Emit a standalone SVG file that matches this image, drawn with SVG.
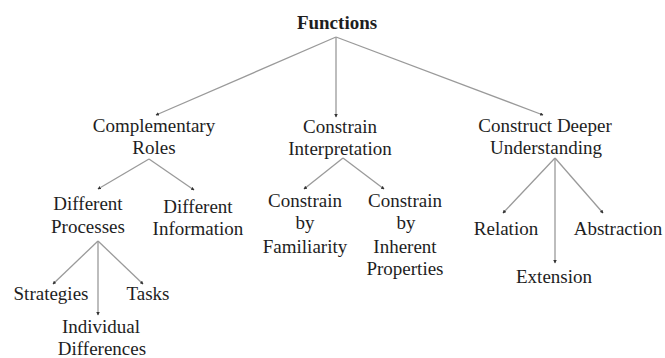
<svg xmlns="http://www.w3.org/2000/svg" width="665" height="358" viewBox="0 0 665 358">
<defs>
<style>
text{font-family:"Liberation Serif","Times New Roman",serif;font-size:19px;fill:#1e1e1e;text-anchor:middle}
.b{font-weight:bold}
.c line{stroke:#9a9a9a;stroke-width:1.3;marker-end:url(#ah)}
</style>
<marker id="ah" viewBox="0 0 6 6" refX="5" refY="3" markerWidth="3.5" markerHeight="3.5" orient="auto" markerUnits="userSpaceOnUse">
<path d="M0,0L6,3L0,6z" fill="#333"/>
</marker>
</defs>
<rect width="665" height="358" fill="#fff"/>
<g class="c" id="connectors">
<line x1="336" y1="37" x2="156" y2="115"/>
<line x1="336" y1="37" x2="336" y2="117"/>
<line x1="336" y1="37" x2="543" y2="115"/>
<line x1="149" y1="159" x2="98" y2="189"/>
<line x1="149" y1="159" x2="194" y2="190"/>
<line x1="343" y1="158" x2="304" y2="189"/>
<line x1="343" y1="158" x2="384" y2="189"/>
<line x1="555" y1="158" x2="503" y2="213"/>
<line x1="555" y1="158" x2="555" y2="263"/>
<line x1="555" y1="158" x2="603" y2="213"/>
<line x1="98" y1="241" x2="53" y2="284"/>
<line x1="98" y1="241" x2="98" y2="315"/>
<line x1="98" y1="241" x2="143" y2="284"/>
</g>
<g id="functions"><text class="b" x="337" y="29">Functions</text></g>
<g id="complementary-roles"><text x="154" y="132">Complementary</text><text x="154" y="154">Roles</text></g>
<g id="constrain-interpretation"><text x="340" y="133">Constrain</text><text x="340" y="155">Interpretation</text></g>
<g id="construct-deeper"><text x="545" y="132">Construct Deeper</text><text x="546" y="154">Understanding</text></g>
<g id="different-processes"><text x="88" y="210">Different</text><text x="88" y="233">Processes</text></g>
<g id="different-information"><text x="198" y="213">Different</text><text x="198" y="235">Information</text></g>
<g id="constrain-familiarity"><text x="305" y="207">Constrain</text><text x="305" y="229">by</text><text x="305" y="253">Familiarity</text></g>
<g id="constrain-inherent"><text x="405" y="207">Constrain</text><text x="406" y="229">by</text><text x="405" y="253">Inherent</text><text x="405" y="275">Properties</text></g>
<g id="relation"><text x="506" y="235">Relation</text></g>
<g id="abstraction"><text x="618" y="235">Abstraction</text></g>
<g id="extension"><text x="554" y="283">Extension</text></g>
<g id="strategies"><text x="51" y="300">Strategies</text></g>
<g id="tasks"><text x="148" y="300">Tasks</text></g>
<g id="individual-differences"><text x="101" y="333">Individual</text><text x="102" y="355">Differences</text></g>
</svg>
